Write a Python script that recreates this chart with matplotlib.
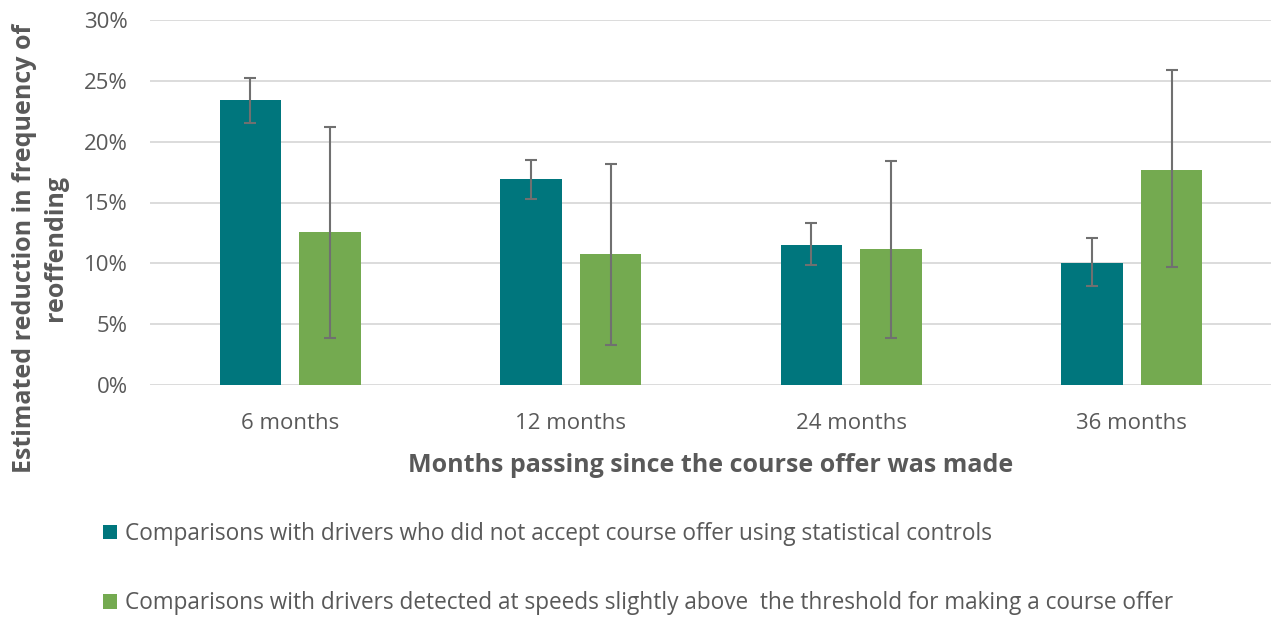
import numpy as np
import matplotlib.pyplot as plt
from matplotlib.patches import Patch
from matplotlib.ticker import FuncFormatter

plt.rcParams['font.family'] = ['Open Sans', 'DejaVu Sans']

# data (percent)
categories = ['6 months', '12 months', '24 months', '36 months']
stat_controls = [23.4, 16.9, 11.5, 10.0]
stat_low = [21.5, 15.3, 9.9, 8.1]
stat_high = [25.2, 18.5, 13.3, 12.1]
threshold = [12.6, 10.75, 11.2, 17.7]
thr_low = [3.9, 3.25, 3.9, 9.7]
thr_high = [21.2, 18.2, 18.4, 25.9]

series_labels = [
    'Comparisons with drivers who did not accept course offer using statistical controls',
    'Comparisons with drivers detected at speeds slightly above  the threshold for making a course offer',
]

TEAL = '#00767D'
GREEN = '#74AA50'
GREY_TXT = '#595959'
ERR = '#707070'

fig = plt.figure(figsize=(12.71, 6.17), dpi=100)
ax = fig.add_axes([150 / 1271, 232 / 617, 1122 / 1271, 365 / 617])

x = np.arange(len(categories))
w = 0.22
off = 0.142

def errs(vals, lo, hi):
    vals = np.array(vals)
    return [vals - np.array(lo), np.array(hi) - vals]

ax.bar(x - off, stat_controls, w, color=TEAL, zorder=2,
       yerr=errs(stat_controls, stat_low, stat_high),
       error_kw=dict(ecolor=ERR, elinewidth=1.5, capsize=4.5, capthick=1.5))
ax.bar(x + off, threshold, w, color=GREEN, zorder=2,
       yerr=errs(threshold, thr_low, thr_high),
       error_kw=dict(ecolor=ERR, elinewidth=1.5, capsize=4.5, capthick=1.5))

ax.set_xlim(-0.5, len(categories) - 0.5)
ax.set_ylim(0, 30)
ax.set_yticks(np.arange(0, 31, 5))
ax.yaxis.set_major_formatter(FuncFormatter(lambda v, p: f'{v:.0f}%'))
ax.set_xticks(x)
ax.set_xticklabels(categories)
ax.tick_params(axis='both', length=0, labelsize=16, labelcolor=GREY_TXT)
ax.tick_params(axis='x', pad=20)
ax.tick_params(axis='y', pad=16)
ax.grid(axis='y', color='#D9D9D9', linewidth=1.3, zorder=0)
ax.set_axisbelow(True)
for s in ax.spines.values():
    s.set_visible(False)

ax.set_xlabel('Months passing since the course offer was made', fontsize=18,
              fontweight='bold', color=GREY_TXT, labelpad=14)
fig.text(40 / 1271, 1 - 248 / 617, 'Estimated reduction in frequency of\nreoffending',
         rotation=90, ha='center', va='center', fontsize=18, fontweight='bold',
         color=GREY_TXT, linespacing=1.3)

handles = [Patch(facecolor=TEAL), Patch(facecolor=GREEN)]
fig.legend(handles, series_labels, loc='upper left', bbox_to_anchor=(94 / 1271, 1 - 513 / 617),
           frameon=False, fontsize=16.3, labelcolor=GREY_TXT, handlelength=0.6,
           handleheight=0.6, handletextpad=0.35, labelspacing=2.0, borderaxespad=0)

fig.savefig('out.png', dpi=100)
